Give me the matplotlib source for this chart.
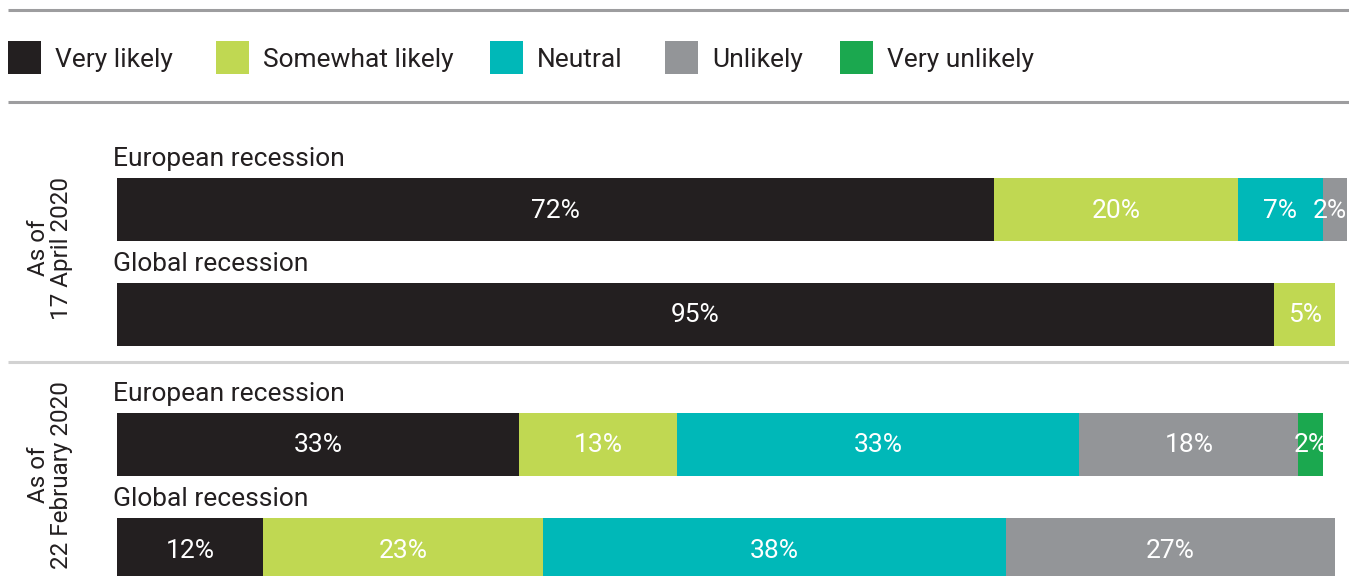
import matplotlib.pyplot as plt
from matplotlib.patches import Rectangle

# ==========================
# 数据
# ==========================
categories = ["Very likely", "Somewhat likely", "Neutral", "Unlikely", "Very unlikely"]
colors = ["#231f20", "#c0d852", "#00b8b8", "#939598", "#1ba84f"]

row_labels = ["European recession", "Global recession",
              "European recession", "Global recession"]
group_labels = ["As of\n17 April 2020", "As of\n22 February 2020"]

very_likely = [72, 95, 33, 12]
somewhat_likely = [20, 5, 13, 23]
neutral = [7, 0, 33, 38]
unlikely = [2, 0, 18, 27]
very_unlikely = [0, 0, 2, 0]

series = [very_likely, somewhat_likely, neutral, unlikely, very_unlikely]

# ==========================
# 画布（像素坐标）
# ==========================
W, H = 1349, 576
plt.rcParams["font.family"] = ["Roboto", "DejaVu Sans"]
fig = plt.figure(figsize=(W / 100, H / 100), dpi=100)

# 背景层：线条、图例、标签
bg = fig.add_axes([0, 0, 1, 1])
bg.set_xlim(0, W)
bg.set_ylim(H, 0)
bg.axis("off")

bg.plot([8, W], [10, 10], color="#9d9d9f", lw=2.2, solid_capstyle="butt")
bg.plot([8, W], [102, 102], color="#9d9d9f", lw=2.2, solid_capstyle="butt")
bg.plot([8, W], [362, 362], color="#d2d2d2", lw=2.2, solid_capstyle="butt")

# 图例
legend_x = [8, 216, 490, 665, 840]
for x, c, lab in zip(legend_x, colors, categories):
    bg.add_patch(Rectangle((x, 41), 33, 33, color=c, lw=0))
    bg.text(x + 47, 67, lab, fontsize=19, color="#231f20", va="baseline", ha="left")

# 条形图：100% = 1218 像素
px_per_pct = 12.18
xmax = (W - 117) / px_per_pct
ax = fig.add_axes([117 / W, 0, (W - 117) / W, 1])
ax.set_xlim(0, xmax)
ax.set_ylim(H, 0)
ax.axis("off")

bar_h = 63
bar_y = [209.5, 314.5, 444.5, 549.5]

left = [0] * len(bar_y)
for vals, c in zip(series, colors):
    ax.barh(bar_y, vals, left=left, height=bar_h, color=c, lw=0)
    for y, l, v in zip(bar_y, left, vals):
        if v > 0:
            xc = min(l + v / 2, xmax - 1.6)  # 避免超出画布右边
            ax.text(xc, y + 1, f"{v}%", color="white", fontsize=19,
                    ha="center", va="center")
    left = [l + v for l, v in zip(left, vals)]

for y, lab in zip(bar_y, row_labels):
    ax.text(-0.3, y - bar_h / 2 - 12, lab, fontsize=19, color="#231f20",
            ha="left", va="baseline")

# 分组标签
group_y = [248, 475]
for y, lab in zip(group_y, group_labels):
    bg.text(50, y, lab, rotation=90, fontsize=17.5, color="#231f20",
            ha="center", va="center", multialignment="center", linespacing=1.0)

fig.savefig("out.png", dpi=100)
plt.close(fig)
